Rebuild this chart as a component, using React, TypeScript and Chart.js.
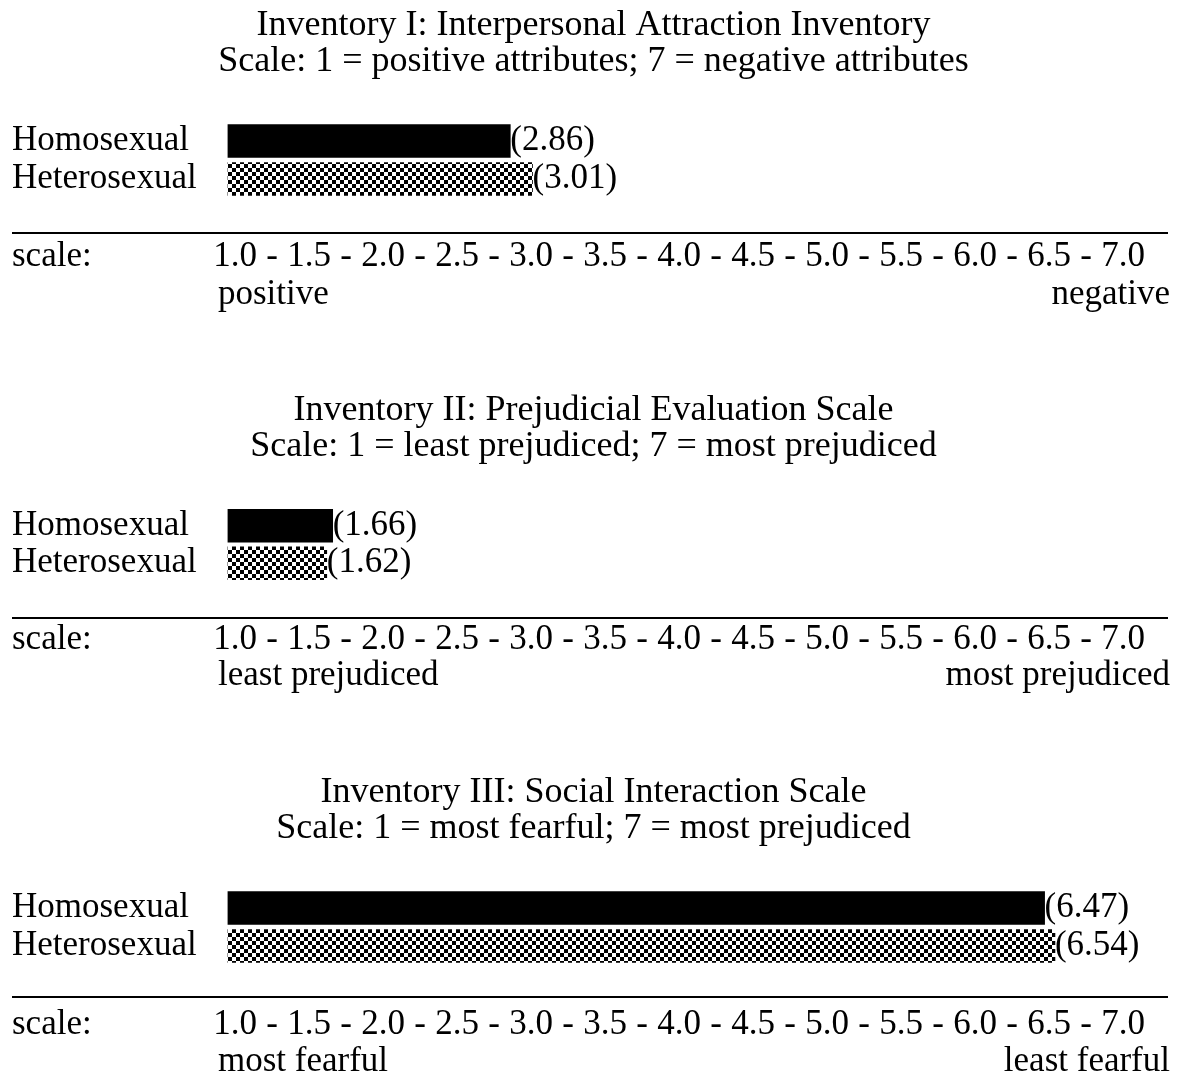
import React, { useEffect, useRef } from 'react';
import { Chart, registerables } from 'chart.js';

Chart.register(...registerables);

// ---------- data ----------
const CATEGORIES = ['Homosexual', 'Heterosexual'];

const INVENTORY_I_VALUES = [2.86, 3.01];
const INVENTORY_II_VALUES = [1.66, 1.62];
const INVENTORY_III_VALUES = [6.47, 6.54];

const TICK_LABELS = ['1.0', '1.5', '2.0', '2.5', '3.0', '3.5', '4.0', '4.5', '5.0', '5.5', '6.0', '6.5', '7.0'];

const TITLES_I = [
  'Inventory I: Interpersonal Attraction Inventory',
  'Scale: 1 = positive attributes; 7 = negative attributes',
];
const TITLES_II = [
  'Inventory II: Prejudicial Evaluation Scale',
  'Scale: 1 = least prejudiced; 7 = most prejudiced',
];
const TITLES_III = [
  'Inventory III: Social Interaction Scale',
  'Scale: 1 = most fearful; 7 = most prejudiced',
];

const LOW_LABELS = ['positive', 'least prejudiced', 'most fearful'];
const HIGH_LABELS = ['negative', 'most prejudiced', 'least fearful'];
const SCALE_WORD = 'scale:';

// ---------- layout / style ----------
const FONT = "'Liberation Serif', 'Times New Roman', serif";
const FS = 35;
const TITLE_FS = 36;
const W = 1187;

const PANELS = [
  { titles: TITLES_I, values: INVENTORY_I_VALUES, low: LOW_LABELS[0], high: HIGH_LABELS[0],
    top: 0, height: 320, titleTop: 8, titleBottom: 42, axisHeight: 122, ruleGap: 35, tickPad: 38, endGap: 38 },
  { titles: TITLES_II, values: INVENTORY_II_VALUES, low: LOW_LABELS[1], high: HIGH_LABELS[1],
    top: 370, height: 330, titleTop: 23, titleBottom: 42, axisHeight: 118, ruleGap: 36, tickPad: 37, endGap: 36 },
  { titles: TITLES_III, values: INVENTORY_III_VALUES, low: LOW_LABELS[2], high: HIGH_LABELS[2],
    top: 745, height: 330, titleTop: 30, titleBottom: 42, axisHeight: 110, ruleGap: 32, tickPad: 39, endGap: 37 },
];

const TICK_VALUES: number[] = [];
TICK_LABELS.forEach((l, i) => {
  const v = parseFloat(l);
  TICK_VALUES.push(v);
  if (i < TICK_LABELS.length - 1) TICK_VALUES.push(v + 0.25);
});

function makeChecker(): CanvasPattern | string {
  const c = document.createElement('canvas');
  c.width = 8;
  c.height = 8;
  const g = c.getContext('2d');
  if (!g) return '#666';
  g.fillStyle = '#fff';
  g.fillRect(0, 0, 8, 8);
  g.fillStyle = '#000';
  g.fillRect(0, 0, 4, 4);
  g.fillRect(4, 4, 4, 4);
  return g.createPattern(c, 'repeat') || '#666';
}

const valueLabelPlugin = {
  id: 'valueLabels',
  afterDatasetsDraw(chart: any) {
    const ctx = chart.ctx;
    const meta = chart.getDatasetMeta(0);
    const data = chart.data.datasets[0].data as number[];
    ctx.save();
    ctx.font = `${FS}px ${FONT}`;
    ctx.fillStyle = '#000';
    ctx.textAlign = 'left';
    ctx.textBaseline = 'middle';
    meta.data.forEach((bar: any, i: number) => {
      ctx.fillText(`(${data[i].toFixed(2)})`, bar.x, bar.y);
    });
    ctx.restore();
  },
};

const decorPlugin = {
  id: 'decor',
  afterDraw(chart: any, _args: any, opts: any) {
    const ctx = chart.ctx;
    const bottom = chart.chartArea.bottom;
    const ruleY = bottom + opts.ruleGap;
    const tickMid = bottom + opts.tickPad + (FS * 1.2) / 2;
    ctx.save();
    ctx.strokeStyle = '#000';
    ctx.lineWidth = 2;
    ctx.beginPath();
    ctx.moveTo(12, ruleY);
    ctx.lineTo(1168, ruleY);
    ctx.stroke();
    ctx.font = `${FS}px ${FONT}`;
    ctx.fillStyle = '#000';
    ctx.textBaseline = 'middle';
    ctx.textAlign = 'left';
    ctx.fillText(SCALE_WORD, 12, tickMid);
    ctx.fillText(opts.low, 218, tickMid + opts.endGap);
    ctx.textAlign = 'right';
    ctx.fillText(opts.high, 1170, tickMid + opts.endGap);
    ctx.restore();
  },
};

export default function App() {
  const refs = [useRef<HTMLCanvasElement>(null), useRef<HTMLCanvasElement>(null), useRef<HTMLCanvasElement>(null)];

  useEffect(() => {
    Chart.defaults.font.family = FONT;
    Chart.defaults.color = '#000';
    const checker = makeChecker();
    const charts: Chart[] = [];
    PANELS.forEach((p, idx) => {
      const canvas = refs[idx].current;
      if (!canvas) return;
      const chart = new Chart(canvas, {
        type: 'bar',
        data: {
          labels: CATEGORIES,
          datasets: [
            {
              data: p.values,
              backgroundColor: ['#000', checker as any],
              borderWidth: 0,
              barThickness: 33,
            },
          ],
        },
        options: {
          indexAxis: 'y',
          animation: false,
          responsive: false,
          devicePixelRatio: 1,
          events: [],
          layout: { padding: { left: 12, right: 12, top: 0, bottom: 0 } },
          plugins: {
            legend: { display: false },
            tooltip: { enabled: false },
            title: {
              display: true,
              text: p.titles,
              color: '#000',
              font: { family: FONT, size: TITLE_FS, weight: 'normal', lineHeight: 36 / TITLE_FS },
              padding: { top: p.titleTop, bottom: p.titleBottom },
            },
            decor: { ruleGap: p.ruleGap, tickPad: p.tickPad, endGap: p.endGap, low: p.low, high: p.high },
          } as any,
          scales: {
            x: {
              type: 'linear',
              min: 0.95,
              max: 7.351,
              grid: { display: false, drawTicks: false },
              border: { display: false },
              afterBuildTicks: (scale: any) => {
                scale.ticks = TICK_VALUES.map((v) => ({ value: v }));
              },
              afterFit: (scale: any) => {
                scale.height = p.axisHeight;
              },
              ticks: {
                autoSkip: false,
                maxRotation: 0,
                minRotation: 0,
                padding: p.tickPad,
                color: '#000',
                font: { family: FONT, size: FS },
                callback: (value: any) => {
                  const i = TICK_LABELS.findIndex((l) => Math.abs(parseFloat(l) - Number(value)) < 1e-6);
                  return i >= 0 ? TICK_LABELS[i] : '-';
                },
              },
            },
            y: {
              type: 'category',
              grid: { display: false, drawTicks: false },
              border: { display: false },
              afterFit: (scale: any) => {
                scale.width = 227.6 - 12;
              },
              ticks: {
                autoSkip: false,
                crossAlign: 'far',
                color: '#000',
                font: { family: FONT, size: FS, lineHeight: 1 },
              },
            },
          },
        },
        plugins: [valueLabelPlugin, decorPlugin],
      } as any);
      charts.push(chart);
    });
    return () => charts.forEach((c) => c.destroy());
  }, []);

  return (
    <div style={{ position: 'absolute', left: 0, top: 0, width: W, height: 1075, background: '#fff' }}>
      {PANELS.map((p, i) => (
        <canvas
          key={i}
          ref={refs[i]}
          width={W}
          height={p.height}
          style={{ position: 'absolute', left: 0, top: p.top, width: W, height: p.height, display: 'block' }}
        />
      ))}
    </div>
  );
}
